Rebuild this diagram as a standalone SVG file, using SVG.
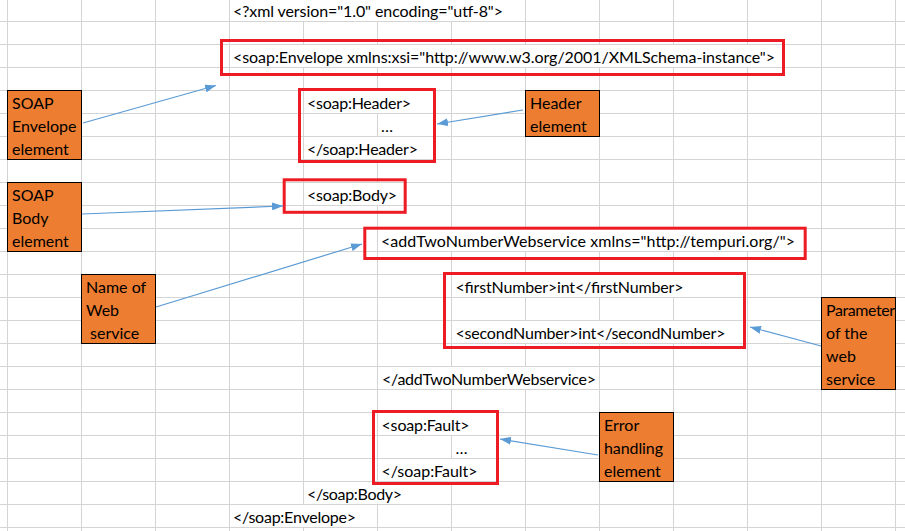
<svg xmlns="http://www.w3.org/2000/svg" width="905" height="531" viewBox="0 0 905 531">
<style>
.grid{stroke:#D4D4D4;stroke-width:1;fill:none}
.t{font-family:Lato,"Liberation Sans",sans-serif;font-size:16px;fill:#000}
.red{fill:none;stroke:#ED1C24;stroke-width:3}
.org{fill:#ED7D31;stroke:#000;stroke-width:1}
.conn line{stroke:#5B9BD5;stroke-width:1.2;marker-end:url(#ah)}
</style>
<defs>
<marker id="ah" markerUnits="userSpaceOnUse" markerWidth="11" markerHeight="8" refX="11" refY="4" orient="auto"><path d="M0,0 L11,4 L0,8 z" fill="#5B9BD5"/></marker>
</defs>
<rect width="905" height="531" fill="#FFFFFF"/>
<g id="grid" class="grid">
<path d="M0 21.5H905M0 44.5H905M0 67.5H905M0 90.5H905M0 113.5H905M0 136.5H905M0 159.5H905M0 182.5H905M0 205.5H905M0 228.5H905M0 251.5H905M0 274.5H905M0 297.5H905M0 320.5H905M0 343.5H905M0 366.5H905M0 389.5H905M0 412.5H905M0 435.5H905M0 458.5H905M0 481.5H905M0 504.5H905M0 527.5H905"/>
<path d="M7.5 0V531M81.5 0V531M155.5 0V531M229.5 0V531M821.5 0V531M895.5 0V531"/>
<path d="M303.5 21.5V44.5M303.5 67.5V504.5M303.5 527.5V531"/>
<path d="M377.5 21.5V44.5M377.5 67.5V90.5M377.5 113.5V136.5M377.5 159.5V182.5M377.5 205.5V481.5M377.5 504.5V531"/>
<path d="M451.5 21.5V44.5M451.5 67.5V228.5M451.5 251.5V366.5M451.5 389.5V412.5M451.5 435.5V458.5M451.5 481.5V531"/>
<path d="M525.5 0V44.5M525.5 67.5V228.5M525.5 251.5V274.5M525.5 297.5V320.5M525.5 343.5V366.5M525.5 389.5V531"/>
<path d="M599.5 0V44.5M599.5 67.5V228.5M599.5 251.5V274.5M599.5 297.5V320.5M599.5 343.5V531"/>
<path d="M673.5 0V44.5M673.5 67.5V228.5M673.5 251.5V274.5M673.5 297.5V320.5M673.5 343.5V531"/>
<path d="M747.5 0V44.5M747.5 67.5V228.5M747.5 251.5V531"/>
</g>
<g id="code-lines" class="t">
<text x="233" y="16.5" textLength="270">&lt;?xml version="1.0" encoding="utf-8"&gt;</text>
<text x="382" y="384.5" textLength="214">&lt;/addTwoNumberWebservice&gt;</text>
<text x="307" y="499.5" textLength="95">&lt;/soap:Body&gt;</text>
<text x="233" y="522.5" textLength="123">&lt;/soap:Envelope&gt;</text>
</g>
<g id="envelope">
<rect class="red" x="221.5" y="40.5" width="562" height="34"/>
<text class="t" x="233" y="62.5" textLength="542">&lt;soap:Envelope xmlns:xsi="http://www.w3.org/2001/XMLSchema-instance"&gt;</text>
</g>
<g id="header">
<rect class="red" x="299.5" y="89.5" width="135" height="72"/>
<text class="t" x="307" y="108.5" textLength="104">&lt;soap:Header&gt;</text>
<text class="t" x="381" y="131.5">…</text>
<text class="t" x="307" y="154.5" textLength="111">&lt;/soap:Header&gt;</text>
</g>
<g id="body">
<rect class="red" x="284.2" y="179.8" width="121" height="32.5"/>
<text class="t" x="307" y="200.5" textLength="90">&lt;soap:Body&gt;</text>
</g>
<g id="webservice">
<rect class="red" x="364.8" y="228.2" width="440.4" height="30.3"/>
<text class="t" x="381" y="246.5" textLength="414">&lt;addTwoNumberWebservice xmlns="http://tempuri.org/"&gt;</text>
</g>
<g id="parameters">
<rect class="red" x="444.5" y="273.5" width="300" height="74"/>
<text class="t" x="455.5" y="292.5" textLength="228">&lt;firstNumber&gt;int&lt;/firstNumber&gt;</text>
<text class="t" x="455.5" y="338.5" textLength="270">&lt;secondNumber&gt;int&lt;/secondNumber&gt;</text>
</g>
<g id="fault">
<rect class="red" x="373.5" y="411.5" width="124" height="72"/>
<text class="t" x="381.5" y="430.5" textLength="88">&lt;soap:Fault&gt;</text>
<text class="t" x="455.5" y="453.5">…</text>
<text class="t" x="381.5" y="476.5" textLength="96">&lt;/soap:Fault&gt;</text>
</g>
<g id="label-envelope">
<rect class="org" x="7.5" y="90.5" width="74" height="69"/>
<text class="t" x="12" y="108.5">SOAP</text>
<text class="t" x="12" y="131.5">Envelope</text>
<text class="t" x="12" y="154.5">element</text>
</g>
<g id="label-header">
<rect class="org" x="525.5" y="90.5" width="74" height="46"/>
<text class="t" x="530" y="108.5">Header</text>
<text class="t" x="530" y="131.5">element</text>
</g>
<g id="label-body">
<rect class="org" x="7.5" y="182.5" width="74" height="69"/>
<text class="t" x="12" y="200.5">SOAP</text>
<text class="t" x="12" y="223.5">Body</text>
<text class="t" x="12" y="246.5">element</text>
</g>
<g id="label-name">
<rect class="org" x="81.5" y="274.5" width="74" height="69"/>
<text class="t" x="86" y="292.5">Name of</text>
<text class="t" x="86" y="315.5">Web</text>
<text class="t" x="90" y="338.5">service</text>
</g>
<g id="label-parameter">
<rect class="org" x="821.5" y="297.5" width="74" height="92"/>
<text class="t" x="826" y="315.5" textLength="69">Parameter</text>
<text class="t" x="826" y="338.5">of the</text>
<text class="t" x="826" y="361.5">web</text>
<text class="t" x="826" y="384.5">service</text>
</g>
<g id="label-error">
<rect class="org" x="599.5" y="412.5" width="74" height="69"/>
<text class="t" x="604" y="430.5">Error</text>
<text class="t" x="604" y="453.5" textLength="59">handling</text>
<text class="t" x="604" y="476.5">element</text>
</g>
<g id="connectors" class="conn">
<line x1="83" y1="123" x2="216" y2="85.5"/>
<line x1="523" y1="110" x2="437" y2="124"/>
<line x1="82" y1="214" x2="283" y2="206"/>
<line x1="156" y1="307" x2="362" y2="244"/>
<line x1="821" y1="346" x2="750" y2="327"/>
<line x1="598" y1="455" x2="500" y2="439"/>
</g>
</svg>
